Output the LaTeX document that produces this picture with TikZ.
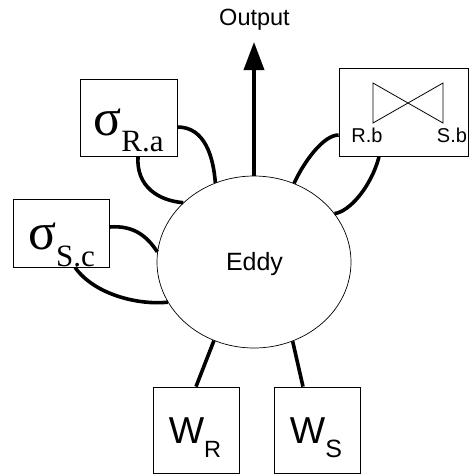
\documentclass[tikz,border=0pt]{standalone}
\usepackage{fontspec}
\setmainfont{Liberation Sans}
\newfontfamily\tnr{Liberation Serif}
\usetikzlibrary{arrows.meta,calc,shapes.geometric}
\begin{document}
\begin{tikzpicture}[x=1pt,y=-1pt,
  box/.style={draw,line width=0.8pt,inner sep=0pt,anchor=center},
  conn/.style={line width=3.6pt,line cap=butt},
  txt/.style={inner sep=0pt,anchor=base}]
\useasboundingbox (0,0) rectangle (469,475);
% eddy
\node[draw,ellipse,line width=0.7pt,minimum width=194pt,minimum height=172pt,inner sep=0pt] (eddy) at (254,262) {};
\node[txt,font=\fontsize{25}{25}\selectfont] (eddylbl) at (254.5,270) {Eddy};
% output
\node[txt,font=\fontsize{23.5}{23}\selectfont] (out) at (254.5,25.5) {Output};
\coordinate (outtip) at (254,42);
\draw[line width=3.6pt,-{Triangle[width=20pt,length=28pt]}] (eddy.north) -- (outtip);
% boxes
\node[box,minimum width=97pt,minimum height=77pt] (ra) at (128.5,117.5) {};
\node[txt] (ralbl) at (128.5,135) {\tnr\fontsize{52}{52}\selectfont σ\raisebox{-16pt}{\fontsize{31}{31}\selectfont R.a}};
\node[box,minimum width=96pt,minimum height=68pt] (sc) at (61,233) {};
\node[txt] (sclbl) at (61.5,249) {\tnr\fontsize{52}{52}\selectfont σ\raisebox{-17pt}{\fontsize{31}{31}\selectfont S.c}};
\node[box,minimum width=129pt,minimum height=88pt] (join) at (403.5,112.5) {};
\draw[line width=0.8pt] (373,83) -- (443,123) -- (443,83) -- (373,123) -- cycle;
\node[txt,font=\fontsize{20}{20}\selectfont] (rb) at (367,142) {R.b};
\node[txt,font=\fontsize{20}{20}\selectfont] (sb) at (452,142) {S.b};
\node[box,minimum width=86pt,minimum height=86pt] (wr) at (196,430) {};
\node[txt] (wrlbl) at (195,443) {\fontsize{37.5}{37}\selectfont W\raisebox{-14pt}{\fontsize{23.5}{23}\selectfont R}};
\node[box,minimum width=86pt,minimum height=86pt] (ws) at (317,430) {};
\node[txt] (wslbl) at (316,443) {\fontsize{37.5}{37}\selectfont W\raisebox{-14pt}{\fontsize{25}{24}\selectfont S}};
% connectors
\draw[conn] ($(ra.east)+(0,9.5)$) .. controls +(28,0) and +(-2,-25) .. (eddy.116);
\draw[conn] ($(ra.south)+(9.5,0)$) .. controls +(-2,30) and +(-25,-2) .. (eddy.140);
\draw[conn] ($(sc.east)+(0,-6)$) .. controls +(25,-2) and +(-10,-15) .. (eddy.174.6);
\draw[conn] ($(sc.south)+(14,0)$) .. controls +(20,28) and +(-28,3) .. (eddy.205);
\draw[conn] ($(join.west)+(0,22.5)$) .. controls +(-15,0) and +(10,-22) .. (eddy.63.4);
\draw[conn] ($(join.south)+(-24.5,0)$) .. controls +(-8,30) and +(15,-2) .. (eddy.31.3);
\draw[conn] (eddy.243.7) -- (wr.north);
\draw[conn] (eddy.296.9) -- ($(ws.north)+(-14,0)$);
\end{tikzpicture}
\end{document}
